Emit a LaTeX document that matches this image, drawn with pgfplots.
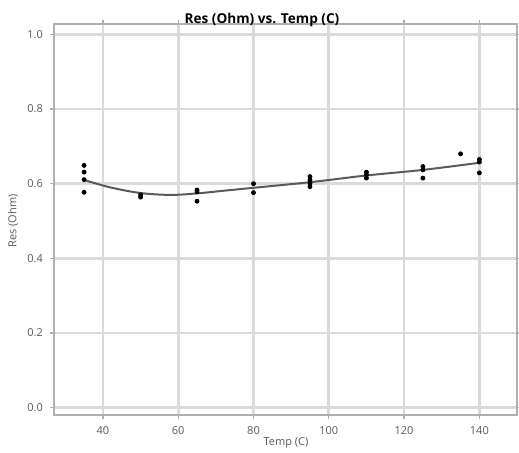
\documentclass[border=0pt]{standalone}
\usepackage{pgfplots}
\pgfplotsset{compat=1.18}
\usepackage{fontspec}
\setmainfont{Open Sans}
\definecolor{gridgray}{RGB}{218,218,218}
\definecolor{axgray}{RGB}{175,175,175}
\definecolor{txtgray}{RGB}{90,90,90}
\definecolor{fitgray}{RGB}{90,90,90}

\begin{document}
\begin{tikzpicture}
\useasboundingbox (0,0) rectangle (259.5pt,226.5pt);
\begin{axis}[
  at={(27pt,19pt)}, anchor=south west,
  scale only axis, width=231.5pt, height=195.3pt,
  xmin=27, xmax=150, ymin=-0.02, ymax=1.027,
  xtick={40,60,80,100,120,140},
  ytick={0,0.2,0.4,0.6,0.8,1.0},
  yticklabel style={/pgf/number format/fixed, /pgf/number format/fixed zerofill, /pgf/number format/precision=1},
  /pgf/number format/assume math mode=true,
  grid=major, grid style={gridgray, line width=1.4pt},
  axis line style={axgray, line width=1pt},
  tick align=outside, major tick length=2pt,
  tick style={axgray, line width=0.6pt},
  tick label style={font=\fontsize{5.5}{6.5}\selectfont, text=txtgray},
]
\addplot[fitgray, line width=1pt, smooth, tension=0.6] coordinates {
  (35,0.610) (42,0.590) (50,0.575) (58,0.570) (65,0.574) (72,0.581) (80,0.589)
  (95,0.604) (110,0.622) (125,0.637) (140,0.656)};
\addplot[only marks, mark=*, mark size=1pt, black] coordinates {
  (35,0.649) (35,0.631) (35,0.611) (35,0.577)
  (50,0.570) (50,0.564)
  (65,0.583) (65,0.578) (65,0.553)
  (80,0.600) (80,0.576)
  (95,0.619) (95,0.610) (95,0.601) (95,0.592)
  (110,0.631) (110,0.624) (110,0.615)
  (125,0.646) (125,0.637) (125,0.615)
  (135,0.680)
  (140,0.665) (140,0.658) (140,0.629)};
\end{axis}
\node[anchor=base, font=\fontsize{6.8}{8}\selectfont\bfseries] at (131pt,214.5pt) {Res (Ohm) vs. Temp (C)};
\node[anchor=base, font=\fontsize{5.5}{6.5}\selectfont, text=txtgray] at (143pt,3.5pt) {Temp (C)};
\node[anchor=center, rotate=90, font=\fontsize{5.5}{6.5}\selectfont, text=txtgray] at (6.5pt,116pt) {Res (Ohm)};
\end{tikzpicture}
\end{document}
